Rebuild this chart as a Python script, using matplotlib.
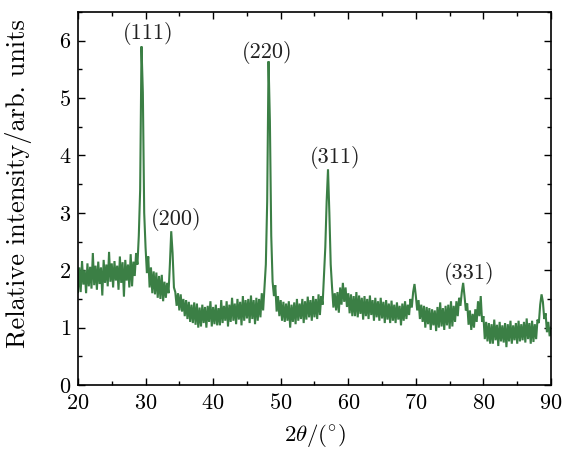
import numpy as np
import matplotlib
matplotlib.use("Agg")
import matplotlib.pyplot as plt
from matplotlib.ticker import MultipleLocator

plt.rcParams['font.family'] = ['cmr10', 'DejaVu Serif']
plt.rcParams['mathtext.fontset'] = 'cm'
plt.rcParams['axes.unicode_minus'] = False
plt.rcParams['axes.formatter.use_mathtext'] = True

# XRD scan: 2theta from 20 to 90 in 0.2 degree steps
two_theta_start = 20.0
two_theta_step = 0.2

intensity = [
    # 20.0 - 28.4
    1.62, 2.05, 1.62, 2.16, 1.75, 2.00, 1.60, 2.12, 1.72, 2.06,
    1.68, 2.30, 1.74, 2.08, 1.66, 2.15, 1.76, 2.05, 1.56, 2.18,
    1.78, 2.10, 1.72, 2.32, 1.80, 2.12, 1.70, 2.16, 1.82, 2.08,
    1.66, 2.24, 1.78, 2.14, 1.54, 2.18, 1.82, 2.10, 1.70, 2.28,
    1.72, 2.15, 1.90,
    # 28.6 - 34.4  ((111) and (200))
    2.30, 2.10, 2.60, 3.40, 5.90, 5.10, 3.00, 2.40, 1.95, 2.24,
    1.70, 2.05, 1.60, 1.98, 1.58, 1.96, 1.52, 1.90, 1.50, 1.92,
    1.46, 1.80, 1.52, 1.78, 1.60, 2.10, 2.68, 2.30, 1.70, 1.62,
    # 34.6 - 47.2
    1.38, 1.60, 1.30, 1.58, 1.28, 1.50, 1.20, 1.48, 1.15, 1.45,
    1.10, 1.40, 1.08, 1.44, 1.05, 1.42, 1.00, 1.35, 1.02, 1.40,
    1.08, 1.36, 1.00, 1.38, 1.10, 1.46, 1.02, 1.36, 1.06, 1.40,
    1.04, 1.34, 1.04, 1.48, 1.08, 1.38, 1.12, 1.46, 1.02, 1.40,
    1.10, 1.52, 1.12, 1.42, 1.06, 1.50, 1.14, 1.45, 1.04, 1.55,
    1.12, 1.48, 1.16, 1.50, 1.08, 1.56, 1.15, 1.48, 1.06, 1.52,
    1.12, 1.50, 1.18, 1.60,
    # 47.4 - 49.2  ((220))
    1.30, 1.70, 2.10, 3.20, 5.64, 4.60, 2.60, 1.80, 1.55, 1.74,
    # 49.4 - 56.2
    1.28, 1.55, 1.20, 1.48, 1.12, 1.45, 1.10, 1.42, 1.12, 1.46,
    1.00, 1.40, 1.10, 1.44, 1.06, 1.50, 1.12, 1.42, 1.15, 1.50,
    1.08, 1.46, 1.14, 1.54, 1.18, 1.48, 1.12, 1.55, 1.18, 1.50,
    1.15, 1.58, 1.22, 1.55, 1.40,
    # 56.4 - 57.6  ((311))
    1.90, 2.40, 3.20, 3.76, 3.00, 2.10, 1.70,
    # 57.8 - 69.6
    1.35, 1.60, 1.30, 1.62, 1.26, 1.70, 1.40, 1.78, 1.45, 1.70,
    1.36, 1.60, 1.25, 1.58, 1.20, 1.55, 1.20, 1.62, 1.18, 1.56,
    1.24, 1.52, 1.14, 1.55, 1.20, 1.50, 1.15, 1.56, 1.22, 1.48,
    1.12, 1.52, 1.18, 1.46, 1.12, 1.52, 1.16, 1.45, 1.08, 1.48,
    1.14, 1.42, 1.08, 1.47, 1.12, 1.40, 1.08, 1.44, 1.14, 1.38,
    1.04, 1.42, 1.12, 1.46, 1.15, 1.40, 1.22, 1.50, 1.35, 1.62,
    # 69.8 - 76.8
    1.76, 1.55, 1.30, 1.48, 1.15, 1.40, 1.10, 1.38, 1.00, 1.36,
    1.06, 1.34, 0.96, 1.32, 1.04, 1.30, 0.94, 1.36, 1.00, 1.44,
    1.02, 1.34, 0.96, 1.38, 1.04, 1.40, 0.98, 1.46, 1.02, 1.38,
    1.10, 1.46, 1.20, 1.52, 1.38, 1.62,
    # 77.0 - 80.0  ((331))
    1.78, 1.55, 1.30, 1.42, 1.05, 1.30, 0.96, 1.24, 1.00, 1.32,
    1.10, 1.46, 1.20, 1.55, 1.10, 1.20,
    # 80.2 - 88.2
    0.80, 1.10, 0.76, 1.08, 0.72, 1.06, 0.72, 1.14, 0.78, 1.05,
    0.68, 1.10, 0.76, 1.04, 0.74, 1.08, 0.66, 1.06, 0.76, 1.12,
    0.72, 1.04, 0.78, 1.08, 0.72, 1.12, 0.76, 1.06, 0.78, 1.10,
    0.74, 1.16, 0.80, 1.08, 0.72, 1.12, 0.75, 1.06, 0.80, 1.14,
    1.08,
    # 88.4 - 90.0
    1.40, 1.58, 1.45, 1.15, 1.25, 0.92, 1.10, 0.85, 1.00,
]

two_theta = two_theta_start + two_theta_step * np.arange(len(intensity))

peak_labels = ['(111)', '(200)', '(220)', '(311)', '(331)']
peak_label_x = [30.4, 34.5, 48.0, 58.0, 77.9]
peak_label_y = [6.12, 2.88, 5.80, 3.96, 1.95]

fig = plt.figure(figsize=(5.63, 4.5), dpi=100)
ax = fig.add_axes([0.1385, 0.1444, 0.8402, 0.8289])

ax.plot(two_theta, intensity, color='#3b7f45', lw=1.5, solid_joinstyle='miter')

for lab, lx, ly in zip(peak_labels, peak_label_x, peak_label_y):
    ax.text(lx, ly, lab, ha='center', va='center', fontsize=16, color='#222222')

ax.set_xlim(20, 90)
ax.set_ylim(0, 6.5)
ax.xaxis.set_major_locator(MultipleLocator(10))
ax.xaxis.set_minor_locator(MultipleLocator(5))
ax.yaxis.set_major_locator(MultipleLocator(1))
ax.yaxis.set_minor_locator(MultipleLocator(0.5))
ax.tick_params(which='both', direction='in', top=True, right=True, labelsize=16, width=1)
ax.tick_params(axis='x', which='major', pad=6)
ax.tick_params(axis='y', which='major', pad=5)
ax.tick_params(which='major', length=5)
ax.tick_params(which='minor', length=3)
for s in ax.spines.values():
    s.set_linewidth(1.2)

ax.set_xlabel(r'$2\theta/(^{\circ})$', fontsize=16.5)
ax.xaxis.set_label_coords(0.5, -0.098)
ax.set_ylabel('Relative intensity/arb. units', fontsize=19)
ax.yaxis.set_label_coords(-0.097, 0.54)

fig.savefig('out.png', dpi=100)
